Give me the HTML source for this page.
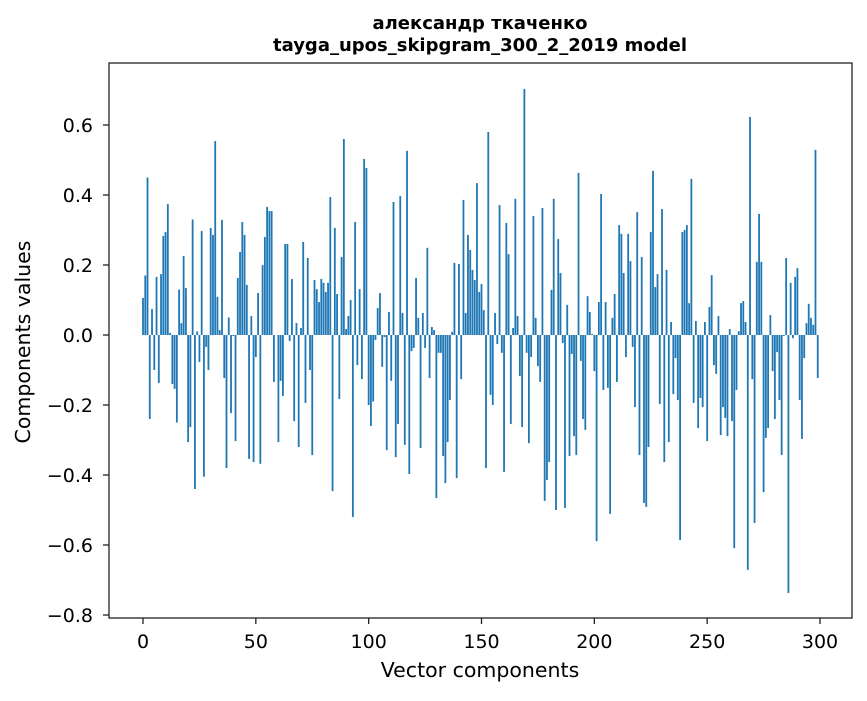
<!DOCTYPE html>
<html><head><meta charset="utf-8"><style>
body{margin:0;background:#fff;}
svg text{font-family:"DejaVu Sans","Liberation Sans",sans-serif;fill:#000;}
</style></head><body>
<svg id="chart" width="867" height="696" viewBox="0 0 867 696" xmlns="http://www.w3.org/2000/svg">
<rect width="867" height="696" fill="#fff"/>
<text x="480" y="29" font-size="18" font-weight="bold" text-anchor="middle">александр ткаченко</text>
<text x="480" y="51" font-size="18" font-weight="bold" text-anchor="middle">tayga_upos_skipgram_300_2_2019 model</text>
<g id="bars"></g>
<g id="axes"></g>
<rect x="109" y="63" width="743" height="555" fill="none" stroke="#222" stroke-width="1.3"/>
<text x="480" y="677" font-size="20.5" text-anchor="middle">Vector components</text>
<text transform="translate(30,342) rotate(-90)" font-size="20.5" text-anchor="middle">Components values</text>
</svg>
<script>
const values=[0.106,0.17,0.45,-0.24,0.074,-0.10,0.166,-0.137,0.174,0.283,0.294,0.374,0.006,-0.14,-0.154,-0.25,0.13,0.034,0.226,0.134,-0.306,-0.263,0.33,-0.44,0.01,-0.077,0.297,-0.405,-0.034,-0.1,0.306,0.286,0.554,0.109,0.014,0.329,-0.123,-0.38,0.05,-0.223,-0.003,-0.303,0.163,0.237,0.323,0.286,0.143,-0.354,0.054,-0.363,
-0.063,0.12,-0.368,0.2,0.28,0.366,0.354,0.354,-0.134,0,-0.306,-0.131,-0.174,0.26,0.26,-0.017,0.16,-0.246,0.034,-0.32,0.02,0.266,-0.194,0.22,-0.1,-0.343,0.157,0.131,0.094,0.16,0.149,0.123,0.149,0.394,-0.446,0.306,0.117,-0.183,0.223,0.56,0.017,0.054,0.1,-0.52,0.323,-0.086,0.131,-0.126,0.503,0.477,
-0.2,-0.26,-0.19,-0.014,0.077,0.12,-0.091,-0.006,-0.329,0.066,-0.131,0.38,-0.349,-0.254,0.397,0.063,-0.314,0.526,-0.397,-0.046,-0.037,0.163,0.049,-0.323,0.063,-0.037,0.249,-0.123,0.023,0.014,-0.466,-0.051,-0.051,-0.346,-0.423,-0.306,-0.186,0.009,0.206,-0.409,0.203,-0.126,0.386,0.063,0.286,0.243,0.186,0.157,0.434,0.123,
0.146,0.071,-0.38,0.58,-0.171,-0.2,0.063,-0.026,0.371,-0.051,-0.391,0.32,0.231,-0.254,0.02,0.389,0.054,-0.117,-0.263,0.703,-0.051,-0.309,-0.063,0.34,0.049,-0.089,-0.134,0.363,-0.474,-0.414,-0.363,0.129,0.389,-0.5,0.274,0.177,-0.023,-0.494,0.086,-0.346,-0.054,-0.289,-0.343,0.463,-0.074,-0.24,-0.271,0.111,0.066,0.003,
-0.103,-0.589,0.094,0.403,-0.157,0.094,-0.151,-0.511,0.049,0.117,-0.134,0.314,0.289,0.177,-0.063,0.289,0.211,-0.034,-0.206,0.351,-0.343,0.223,-0.48,-0.491,-0.32,0.294,0.469,0.137,0.174,-0.197,0.36,-0.363,0.186,-0.306,0.037,-0.169,-0.066,-0.186,-0.586,0.294,0.3,0.314,0.091,0.446,-0.194,0.04,-0.266,-0.18,-0.206,0.037,
-0.303,0.08,0.171,-0.086,-0.111,0.054,-0.286,-0.206,-0.237,-0.289,0.017,-0.246,-0.609,-0.157,0.011,0.091,0.097,0.037,-0.671,0.623,-0.126,-0.537,0.209,0.346,0.209,-0.449,-0.294,-0.266,0.057,-0.103,-0.24,-0.049,-0.186,-0.343,-0.003,0.22,-0.737,0.149,-0.009,0.166,0.191,-0.186,-0.297,-0.066,0.034,0.089,0.049,0.029,0.529,-0.123];
const xTicks=[0,50,100,150,200,250,300];
const yTicks=[-0.8,-0.6,-0.4,-0.2,0.0,0.2,0.4,0.6];
const NS='http://www.w3.org/2000/svg';
function xs(v){return 143+v*(677/300);}
function ys(v){return 335-v*350;}
const bars=document.getElementById('bars');
const bw=0.8*(677/300);
values.forEach((v,i)=>{
  const r=document.createElementNS(NS,'rect');
  
  
  const y0=ys(0),y1=ys(v);
  r.setAttribute('x',xs(i)-bw/2);
  r.setAttribute('y',Math.min(y0,y1));
  r.setAttribute('width',bw);
  r.setAttribute('height',Math.max(Math.abs(y1-y0),0.01));
  r.setAttribute('fill','#1f77b4');
  bars.appendChild(r);
});
const axes=document.getElementById('axes');
xTicks.forEach(t=>{
  const l=document.createElementNS(NS,'line');
  
  
  l.setAttribute('x1',xs(t));l.setAttribute('x2',xs(t));
  l.setAttribute('y1',618);l.setAttribute('y2',624);
  l.setAttribute('stroke','#222');l.setAttribute('stroke-width','1.3');
  axes.appendChild(l);
  const tx=document.createElementNS(NS,'text');
  
  
  tx.setAttribute('x',xs(t));tx.setAttribute('y',648);
  tx.setAttribute('font-size','19');tx.setAttribute('text-anchor','middle');
  tx.textContent=String(t);
  axes.appendChild(tx);
});
yTicks.forEach(t=>{
  const l=document.createElementNS(NS,'line');
  
  
  l.setAttribute('x1',103);l.setAttribute('x2',109);
  l.setAttribute('y1',ys(t));l.setAttribute('y2',ys(t));
  l.setAttribute('stroke','#222');l.setAttribute('stroke-width','1.3');
  axes.appendChild(l);
  const tx=document.createElementNS(NS,'text');
  
  
  tx.setAttribute('x',93);tx.setAttribute('y',ys(t)+7);
  tx.setAttribute('font-size','19');tx.setAttribute('text-anchor','end');
  tx.textContent=(t<0?'\u2212':'')+Math.abs(t).toFixed(1);
  axes.appendChild(tx);
});
</script>
</body></html>
